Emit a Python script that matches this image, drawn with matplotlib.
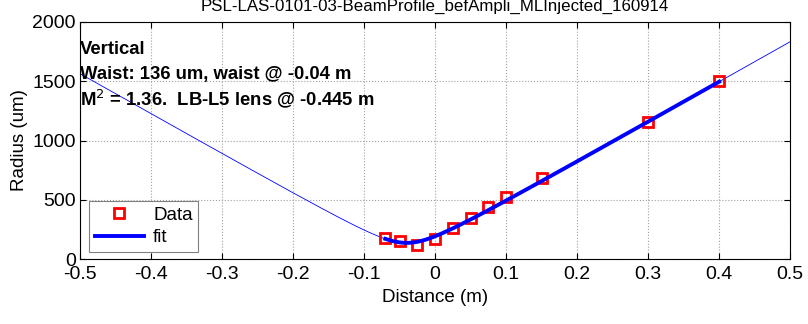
import numpy as np
import matplotlib.pyplot as plt

plt.rcParams['font.family'] = ['Liberation Sans', 'DejaVu Sans']

# measured beam radius
dist_m = [-0.07, -0.05, -0.025, 0.0, 0.025, 0.05, 0.075, 0.1, 0.15, 0.3, 0.4]
radius_um = [175, 150, 120, 165, 265, 350, 440, 520, 680, 1160, 1500]

# gaussian beam fit parameters
waist_um = 136
waist_pos = -0.04
m2 = 1.36
wavelength_m = 1064e-9

title = 'PSL-LAS-0101-03-BeamProfile_befAmpli_MLInjected_160914'
notes = ['Vertical', 'Waist: 136 um, waist @ -0.04 m',
         'M$^2$ = 1.36.  LB-L5 lens @ -0.445 m']


def beam_radius(z):
    zr = np.pi * (waist_um * 1e-6) ** 2 / (m2 * wavelength_m)
    return waist_um * np.sqrt(1 + ((z - waist_pos) / zr) ** 2)


def main():
    fig = plt.figure(figsize=(8.08, 3.24), dpi=100)
    ax = fig.add_axes([0.099, 0.2006, 0.879, 0.7315])

    z_all = np.linspace(-0.5, 0.5, 400)
    ax.plot(z_all, beam_radius(z_all), color='blue', lw=0.6)
    ax.plot(dist_m, radius_um, 's', mec='red', mfc='none', mew=2, ms=7, label='Data')
    z_fit = np.linspace(min(dist_m), max(dist_m), 200)
    ax.plot(z_fit, beam_radius(z_fit), color='blue', lw=2.8, label='fit')

    ax.set_xlim(-0.5, 0.5)
    ax.set_ylim(0, 2000)
    ax.set_xticks(np.arange(-0.5, 0.51, 0.1))
    ax.set_xticklabels(['-0.5', '-0.4', '-0.3', '-0.2', '-0.1', '0',
                        '0.1', '0.2', '0.3', '0.4', '0.5'])
    ax.set_yticks([0, 500, 1000, 1500, 2000])
    ax.tick_params(direction='in', labelsize=14, length=4, top=True, right=True, pad=3)
    ax.tick_params(axis='x', pad=5)
    ax.grid(True, ls=':', color='#a0a0a0', lw=0.8)
    ax.set_xlabel('Distance (m)', fontsize=13.5, labelpad=4)
    ax.set_ylabel('Radius (um)', fontsize=13.5, labelpad=3)
    ax.set_title(title, fontsize=12.2, pad=8)

    for i, t in enumerate(notes):
        ax.text(0.0, 0.885 - i * 0.105, t, transform=ax.transAxes,
                fontsize=13.3, fontweight='bold', va='center', ha='left')

    leg = ax.legend(loc='lower left', bbox_to_anchor=(0.0, -0.01), fontsize=13.5,
                    fancybox=False, edgecolor='#808080', framealpha=1,
                    handlelength=2.6, borderpad=0.3, labelspacing=0.3,
                    handletextpad=0.5)
    leg.get_frame().set_linewidth(0.8)

    fig.savefig('out.png', dpi=100)


if __name__ == '__main__':
    main()
